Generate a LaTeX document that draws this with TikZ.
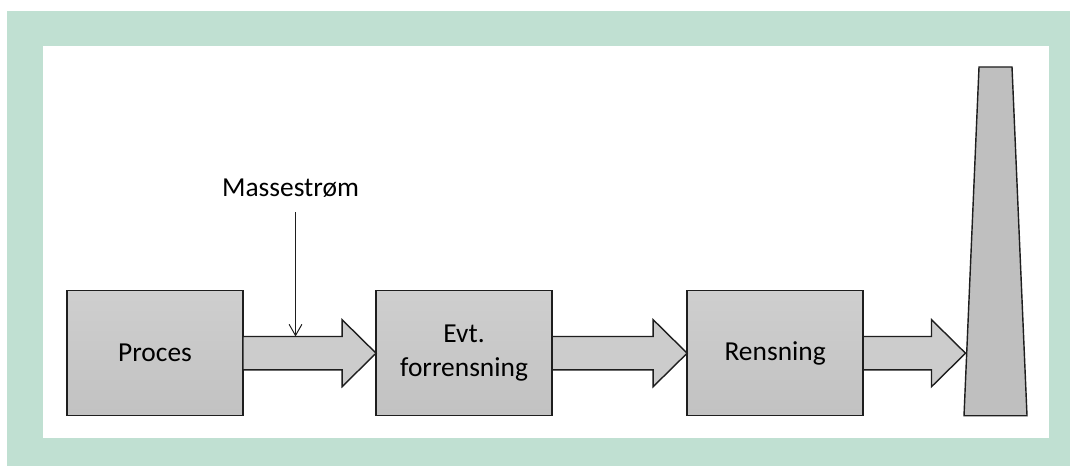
\documentclass[tikz,border=0pt]{standalone}
\usepackage{fontspec}
\setmainfont{Carlito}
\usetikzlibrary{arrows.meta,positioning,calc}
\definecolor{mint}{RGB}{192,224,210}
\definecolor{edge}{RGB}{30,30,30}
% block arrow from the east side of #1 to the west side of #2
\newcommand{\flowarrow}[2]{%
 \draw[flow] ($(#1.east)+(0,-16.7)$) -- ($(#2.west)+(-34,-16.7)$) -- ($(#2.west)+(-34,-33.5)$) -- (#2.west)
  -- ($(#2.west)+(-34,33.5)$) -- ($(#2.west)+(-34,16.7)$) -- ($(#1.east)+(0,16.7)$) -- cycle;}
\begin{document}
\begin{tikzpicture}[x=0.025cm,y=-0.025cm,every node/.style={font=\fontsize{19.5}{24}\selectfont},
 b/.style={draw=edge,line width=1pt,top color=gray!38,bottom color=gray!48,minimum width=4.4cm,minimum height=3.125cm,align=center,inner sep=0pt,outer sep=0pt},
 flow/.style={draw=edge,line width=1pt,fill=gray!40,line join=miter},
 feed/.style={-{Straight Barb[length=2.8mm,width=3.2mm]},line width=0.7pt,edge}]
\useasboundingbox (0,0) rectangle (1070,466);
\fill[mint] (7,11) rectangle (1070,466);
\fill[white] (43,46) rectangle (1049,437.5);
\node[b] (proc) at (155,353.2) {Proces};
\node[b,right=3.325cm of proc] (pre) {Evt.\\ forrensning};
\node[b,right=3.375cm of pre] (rens) {Rensning};
% stack
\draw[draw=edge,line width=1pt,fill=gray!50] (964,415.7) -- (979,67) -- (1012,67) -- (1027,415.7) -- cycle;
\coordinate (stack) at (965.5,353.2);
\flowarrow{proc}{pre}
\flowarrow{pre}{rens}
\flowarrow{rens}{stack}
\node (mass) at (290.5,188) {Massestrøm};
\coordinate (inlet) at (295.5,336.5);
\draw[feed,shorten <=7pt] (inlet |- mass.south) -- (inlet);
\end{tikzpicture}
\end{document}
